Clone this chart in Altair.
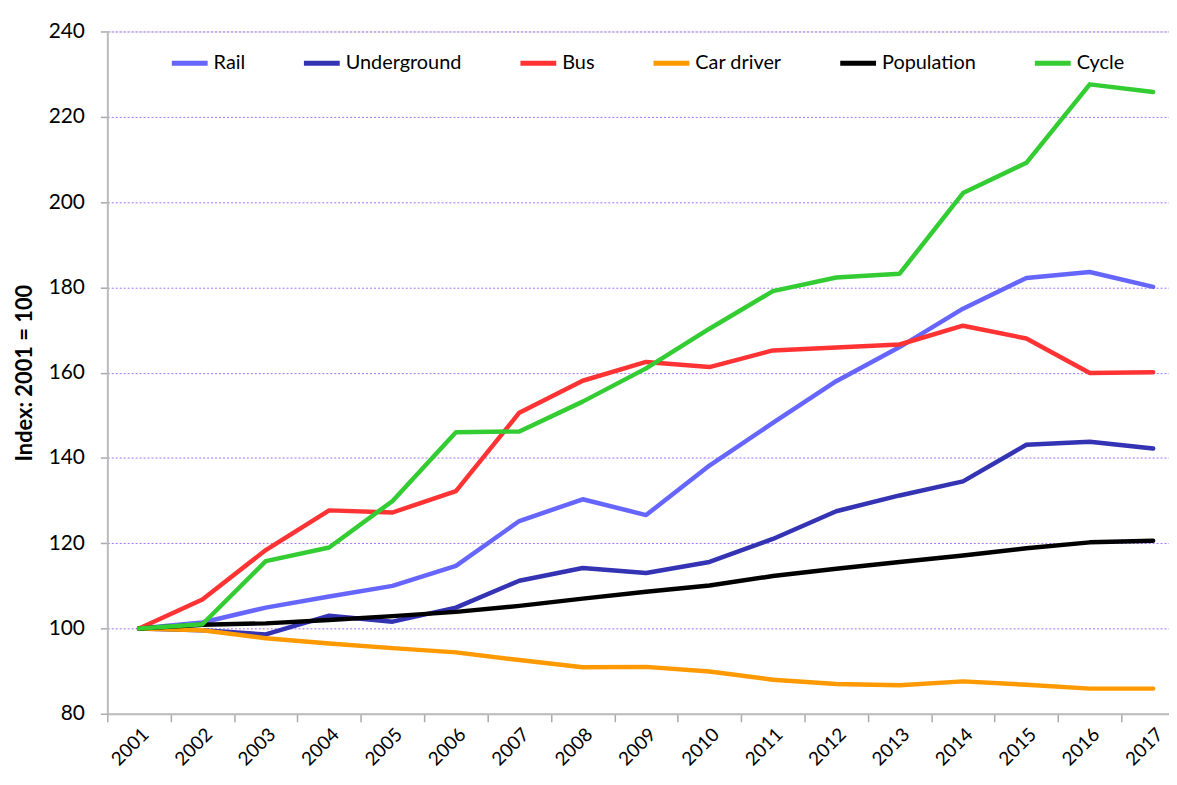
import altair as alt
import pandas as pd

years = list(range(2001, 2018))
series_names = ["Rail", "Underground", "Bus", "Car driver", "Population", "Cycle"]
series_colors = ["#6666FF", "#3333B3", "#FF3333", "#FF9900", "#000000", "#33CC33"]

rail = [100, 101.4, 104.9, 107.5, 110.0, 114.7, 125.2, 130.3, 126.6, 138.2, 148.2, 158.0, 166.0, 175.0, 182.2, 183.6, 180.1]
underground = [100, 99.6, 98.6, 103.0, 101.6, 104.9, 111.2, 114.2, 113.0, 115.6, 121.0, 127.5, 131.2, 134.5, 143.1, 143.8, 142.2]
bus = [100, 106.8, 118.4, 127.7, 127.2, 132.2, 150.6, 158.1, 162.5, 161.3, 165.2, 165.9, 166.6, 171.0, 168.0, 159.9, 160.1]
car_driver = [100, 99.6, 97.7, 96.5, 95.4, 94.4, 92.6, 90.9, 91.0, 89.9, 88.0, 87.0, 86.7, 87.6, 86.8, 85.9, 85.9]
population = [100, 100.9, 101.2, 102.0, 102.9, 103.9, 105.3, 107.0, 108.6, 110.1, 112.3, 114.0, 115.6, 117.1, 118.8, 120.2, 120.6]
cycle = [100, 101.0, 115.8, 119.0, 129.9, 146.0, 146.2, 153.2, 161.0, 170.3, 179.1, 182.3, 183.2, 202.1, 209.2, 227.6, 225.8]

y_ticks = [80, 100, 120, 140, 160, 180, 200, 220, 240]

all_series = [rail, underground, bus, car_driver, population, cycle]
rows = []
for name, vals in zip(series_names, all_series):
    for yr, v in zip(years, vals):
        rows.append({"Year": yr, "Value": v, "Series": name})
df = pd.DataFrame(rows)

# axis values: band boundaries (ticks only) and years (labels only)
x_values = []
for yr in years:
    x_values.append(yr - 0.5)
    x_values.append(yr)

FONT = "Lato"

chart = (
    alt.Chart(df)
    .mark_line(strokeWidth=4.5, strokeJoin="round", strokeCap="round")
    .encode(
        x=alt.X(
            "Year:Q",
            scale=alt.Scale(domain=[2000.5, 2017.25], nice=False, zero=False),
            axis=alt.Axis(
                values=x_values,
                title=None,
                grid=False,
                labelAngle=-45,
                labelAlign="right",
                labelBaseline="top",
                labelOverlap=False,
                labelExpr="datum.value % 1 == 0 ? toString(datum.value) : ''",
                labelFontSize=19,
                labelFont=FONT,
                labelColor="#000000",
                labelPadding=3,
                tickSize=8,
                tickColor="#AAAAAA",
                tickWidth=1.5,
                tickOpacity={"condition": {"test": "datum.value % 1 == 0", "value": 0}, "value": 1},
                domainColor="#BBBBBB",
                domainWidth=2,
            ),
        ),
        y=alt.Y(
            "Value:Q",
            scale=alt.Scale(domain=[80, 240], nice=False, zero=False),
            axis=alt.Axis(
                values=y_ticks,
                title="Index: 2001 = 100",
                titleFont=FONT,
                titleFontSize=22,
                titleFontWeight="bold",
                titleColor="#000000",
                titlePadding=12,
                labelFont=FONT,
                labelFontSize=21,
                labelColor="#000000",
                labelPadding=16,
                tickSize=7,
                tickColor="#AAAAAA",
                tickWidth=1.5,
                domainColor="#BBBBBB",
                domainWidth=2,
                grid=True,
                gridColor="#A070FF",
                gridDash=[2, 2],
                gridWidth=1,
            ),
        ),
        color=alt.Color(
            "Series:N",
            scale=alt.Scale(domain=series_names, range=series_colors),
            sort=series_names,
            legend=alt.Legend(
                title=None,
                orient="none",
                legendX=62,
                legendY=11,
                direction="horizontal",
                symbolType="stroke",
                symbolSize=1300,
                symbolStrokeWidth=5,
                labelFont=FONT,
                labelFontSize=20,
                labelColor="#000000",
                columnPadding=48,
                labelOffset=3,
                padding=0,
            ),
        ),
    )
    .properties(
        width=1069,
        height=687,
        autosize=alt.AutoSizeParams(type="none"),
        padding={"left": 100, "top": 21, "right": 0, "bottom": 60},
    )
    .configure_view(stroke=None)
    .configure(background="#FFFFFF")
)

chart.save("out.html", embed_options={"renderer": "svg", "actions": False})
